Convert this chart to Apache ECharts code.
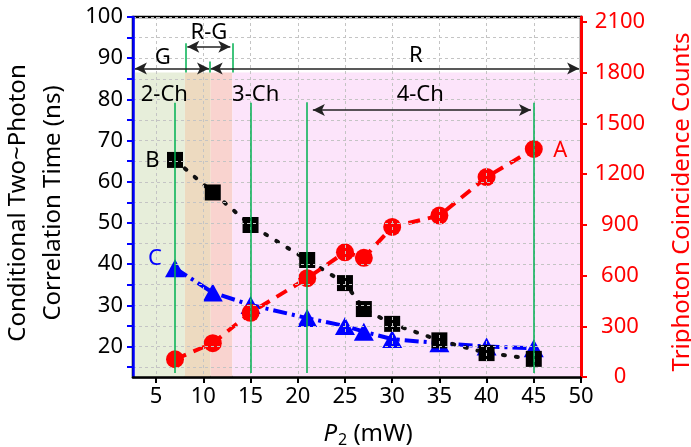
<!DOCTYPE html>
<html>
<head>
<meta charset="utf-8">
<script src="https://cdn.jsdelivr.net/npm/echarts@6/dist/echarts.min.js"></script>
<style>
  html, body { margin: 0; padding: 0; background: #fff; }
  #main { width: 691px; height: 447px; }
</style>
</head>
<body>
<div id="main"></div>
<script>
// P2 (mW) for every measurement
var power = [7, 11, 15, 21, 25, 27, 30, 35, 40, 45];
// B: conditional two-photon correlation time (ns), black squares
var timeB = [65.3, 57.4, 49.5, 41.0, 35.4, 29.1, 25.5, 21.5, 18.4, 17.0];
// C: blue triangles (ns)
var timeC = [39.0, 33.1, 30.1, 26.9, 25.0, 23.6, 21.8, 20.8, 20.0, 19.6];
// A: triphoton coincidence counts, red circles (right axis)
var countsA = [105, 200, 380, 585, 738, 705, 888, 955, 1183, 1349];

var xTicks = [5, 10, 15, 20, 25, 30, 35, 40, 45, 50];
var leftTicks = [15, 20, 25, 30, 35, 40, 45, 50, 55, 60, 65, 70, 75, 80, 85, 90, 95, 100];
var leftLabels = [20, 30, 40, 50, 60, 70, 80, 90, 100];
var rightTicks = [0, 300, 600, 900, 1200, 1500, 1800, 2100];

// shaded regions: [from, to, colour]
var regions = [
  [2.55, 8.05, '#e7eeda'],
  [8.05, 10.78, '#eddac0'],
  [10.78, 13.07, '#f9d3cf'],
  [13.07, 50, '#fce4fa']
];
var regionTop = 86.5;

// green markers [x, yFrom, yTo]
var greenLines = [
  [7, 79.2, 13.6], [15, 79.2, 13.6], [21, 79.3, 13.6], [45, 79.2, 13.6],
  [8.1, 93.6, 86.5], [13.07, 93.6, 86.5], [10.69, 89.2, 86.5]
];
// double arrows [xFrom, xTo, y]
var arrows = [
  [2.75, 10.6, 87.5],
  [10.78, 49.8, 87.5],
  [8.3, 12.86, 92.8],
  [21.6, 44.7, 77.4]
];
// text notes [text, x, y, colour]
var notes = [
  ['G', 5.7, 90.1, '#000'],
  ['R-G', 10.59, 96.2, '#000'],
  ['R', 32.5, 90.5, '#000'],
  ['2-Ch', 5.87, 81.2, '#000'],
  ['3-Ch', 15.54, 81.2, '#000'],
  ['4-Ch', 32.97, 81.1, '#000'],
  ['B', 4.6, 65.1, '#000'],
  ['C', 4.87, 41.3, '#0000ff'],
  ['A', 47.8, 67.6, '#ff0000']
];

var FONT = 'Noto Sans';

function pairs(xs, ys) {
  return xs.map(function (x, i) { return [x, ys[i]]; });
}

var chart = echarts.init(document.getElementById('main'));

var option = {
  animation: false,
  textStyle: { fontFamily: FONT },
  grid: {
    left: 133, right: 110, top: 17, bottom: 70,
    containLabel: false,
    outerBoundsMode: 'none',
    show: true, borderColor: '#000', borderWidth: 2.5, backgroundColor: 'transparent'
  },
  xAxis: {
    type: 'value',
    min: 2.55,
    max: 50,
    z: 5,
    name: '{i|P}{s|2}{n| (mW)}',
    nameLocation: 'middle',
    nameGap: 43,
    nameTextStyle: {
      padding: [0, 0, 0, 22],
      rich: {
        i: { fontStyle: 'italic', fontSize: 24, color: '#000', fontFamily: FONT },
        s: { fontSize: 16, color: '#000', fontFamily: FONT, padding: [12, 0, 0, 1] },
        n: { fontSize: 24, color: '#000', fontFamily: FONT }
      }
    },
    axisLine: { lineStyle: { color: '#000', width: 2.5 } },
    axisTick: { show: true, length: 6, lineStyle: { color: '#000', width: 2 }, customValues: xTicks },
    axisLabel: { fontSize: 22, color: '#000', margin: 9, customValues: xTicks },
    splitLine: { show: true, lineStyle: { color: '#c4c4c4', type: [3, 3], width: 1 } }
  },
  yAxis: [{
    type: 'value',
    min: 12.6,
    max: 100,
    z: 5,
    name: 'Conditional Two~Photon\nCorrelation Time (ns)',
    nameLocation: 'middle',
    nameRotate: 90,
    nameGap: 62,
    nameTextStyle: { fontSize: 24, color: '#000', lineHeight: 35, padding: [0, 12, 0, 0] },
    axisLine: { show: true, lineStyle: { color: '#0000ff', width: 2.5 } },
    axisTick: { show: true, length: 6, lineStyle: { color: '#0000ff', width: 2 }, customValues: leftTicks },
    axisLabel: { fontSize: 22, color: '#000', margin: 10, customValues: leftLabels },
    splitLine: { show: true, lineStyle: { color: '#c4c4c4', type: [3, 3], width: 1 } }
  }, {
    type: 'value',
    min: 0,
    max: 2130,
    z: 5,
    position: 'right',
    name: 'Triphoton Coincidence Counts',
    nameLocation: 'middle',
    nameRotate: 90,
    nameGap: 89,
    nameTextStyle: { fontSize: 24, color: '#ff0000', padding: [0, 10, 0, 0] },
    axisLine: { show: true, lineStyle: { color: '#ff0000', width: 3 } },
    axisTick: { show: true, length: 6, lineStyle: { color: '#ff0000', width: 2 }, customValues: rightTicks },
    axisLabel: {
      fontSize: 22, color: '#ff0000', margin: 39, align: 'center', customValues: rightTicks,
      formatter: function (v) { return String(v); }
    },
    splitLine: { show: false }
  }],
  series: [
    {
      name: 'decor',
      type: 'line',
      data: [],
      silent: true,
      markArea: {
        silent: true,
        data: regions.map(function (r) {
          return [{ xAxis: r[0], yAxis: 12.6, itemStyle: { color: r[2] } }, { xAxis: r[1], yAxis: regionTop }];
        })
      },
      markLine: {
        silent: true,
        symbol: 'none',
        label: { show: false },
        lineStyle: { color: '#00b050', width: 1.5, type: 'solid' },
        data: greenLines.map(function (g) {
          return [{ coord: [g[0], g[1]] }, { coord: [g[0], g[2]] }];
        }).concat(arrows.map(function (a) {
          return [
            { coord: [a[0], a[2]], symbol: 'arrow', symbolSize: [9, 12], lineStyle: { color: '#222', width: 1.5 } },
            { coord: [a[1], a[2]], symbol: 'arrow', symbolSize: [9, 12] }
          ];
        }))
      }
    },
    {
      name: 'C',
      type: 'line',
      data: pairs(power, timeC),
      symbol: 'triangle',
      symbolSize: [20, 18],
      itemStyle: { color: '#0000ff' },
      lineStyle: { color: '#0000ff', width: 4, type: [14, 5, 3, 5] }
    },
    {
      name: 'B',
      type: 'line',
      data: pairs(power, timeB),
      symbol: 'rect',
      symbolSize: 16,
      itemStyle: { color: '#000', borderRadius: 2 },
      lineStyle: { color: '#111', width: 4, type: [2, 11], cap: 'round' }
    },
    {
      name: 'A',
      type: 'line',
      yAxisIndex: 1,
      data: pairs(power, countsA),
      symbol: 'circle',
      symbolSize: 18,
      itemStyle: { color: '#ff0000' },
      lineStyle: { color: '#ff0000', width: 4, type: [12, 8] }
    },
    {
      name: 'notes',
      type: 'scatter',
      silent: true,
      z: 6,
      symbolSize: 1,
      itemStyle: { color: 'rgba(0,0,0,0)', opacity: 1 },
      label: {
        show: true,
        position: 'inside',
        fontSize: 22,
        fontFamily: FONT,
        opacity: 1,
        textBorderWidth: 0,
        formatter: function (p) { return p.name; }
      },
      data: notes.map(function (n) {
        return { name: n[0], value: [n[1], n[2]], label: { color: n[3] } };
      })
    }
  ]
};

chart.setOption(option);
</script>
</body>
</html>
